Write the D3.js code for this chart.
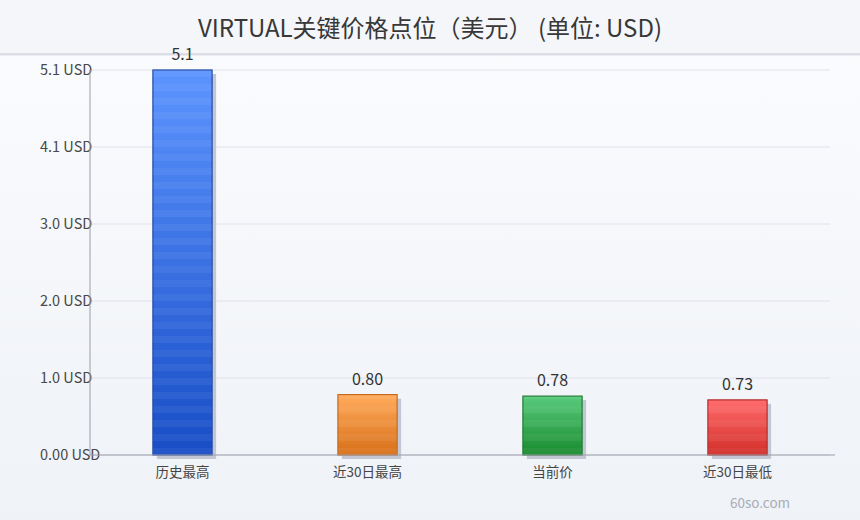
<!DOCTYPE html>
<html>
<head>
<meta charset="utf-8">
<script src="https://cdn.jsdelivr.net/npm/d3@7/dist/d3.min.js"></script>
<style>
  html, body { margin: 0; padding: 0; background: #f2f4f8; }
  svg { display: block; font-family: "Noto Sans CJK SC", "Noto Sans", sans-serif; }
</style>
</head>
<body>
<svg id="chart" width="860" height="520"></svg>
<script>
// --- DATA ---
const TITLE = "VIRTUAL关键价格点位（美元） (单位: USD)";
const categories = ["历史最高", "近30日最高", "当前价", "近30日最低"];
const values = [5.1, 0.80, 0.78, 0.73];
const valueLabels = ["5.1", "0.80", "0.78", "0.73"];
const tickValues = [0, 1.02, 2.04, 3.06, 4.08, 5.1];
const tickLabels = ["0.00 USD", "1.0 USD", "2.0 USD", "3.0 USD", "4.1 USD", "5.1 USD"];
const barColors = [
  { top: "#5c94ff", bottom: "#184dc6", stroke: "#2148a6" },
  { top: "#ffab5c", bottom: "#d86f18", stroke: "#c56818" },
  { top: "#58ca7c", bottom: "#188a2e", stroke: "#1f7a32" },
  { top: "#ff6c6c", bottom: "#d22e28", stroke: "#b32a2a" }
];

// --- LAYOUT ---
const W = 860, H = 520;
const margin = { top: 70, right: 30, bottom: 65, left: 90 };
const plotW = W - margin.left - margin.right;
const plotH = H - margin.top - margin.bottom;

const svg = d3.select("#chart");
const defs = svg.append("defs");

// backgrounds
const bgGrad = defs.append("linearGradient").attr("id", "bg").attr("x1", 0).attr("y1", 0).attr("x2", 0).attr("y2", 1);
bgGrad.append("stop").attr("offset", "0%").attr("stop-color", "#fbfcfe");
bgGrad.append("stop").attr("offset", "100%").attr("stop-color", "#eff2f7");
svg.append("rect").attr("width", W).attr("height", H).attr("fill", "url(#bg)");
svg.append("rect").attr("width", W).attr("height", 53).attr("fill", "#f5f6f9");
svg.append("rect").attr("y", 53).attr("width", W).attr("height", 2.5).attr("fill", "#dcdee6");

// title
svg.append("text")
  .attr("x", W / 2).attr("y", 37)
  .attr("text-anchor", "middle")
  .attr("font-size", 24)
  .attr("fill", "#383838")
  .text(TITLE);

// scales
const x = d3.scaleBand().domain(categories).range([margin.left, margin.left + plotW]).paddingInner(0.68).paddingOuter(0.34);
const y = d3.scaleLinear().domain([0, d3.max(values)]).range([margin.top + plotH, margin.top]);

// gridlines
svg.append("g").selectAll("line").data(tickValues).join("line")
  .attr("x1", margin.left).attr("x2", margin.left + plotW)
  .attr("y1", d => y(d)).attr("y2", d => y(d))
  .attr("stroke", "#dfe2ea").attr("stroke-width", 1);

// y tick labels
svg.append("g").selectAll("text").data(tickValues).join("text")
  .attr("x", 40).attr("y", d => y(d) + 5)
  .attr("font-size", 14.5).attr("fill", "#484848")
  .text((d, i) => tickLabels[i]);

// gradients + stripes per bar
barColors.forEach((c, i) => {
  const g = defs.append("linearGradient").attr("id", "bar" + i).attr("x1", 0).attr("y1", 0).attr("x2", 0).attr("y2", 1);
  g.append("stop").attr("offset", "0%").attr("stop-color", c.top);
  g.append("stop").attr("offset", "100%").attr("stop-color", c.bottom);
});
const stripes = defs.append("pattern").attr("id", "stripes")
  .attr("patternUnits", "userSpaceOnUse").attr("width", 10).attr("height", 14);
stripes.append("rect").attr("width", 10).attr("height", 7).attr("fill", "#fff").attr("opacity", 0.05);

// bars
const bars = svg.append("g").selectAll("g").data(categories).join("g");
bars.append("rect")
  .attr("x", d => x(d) + 4).attr("y", (d, i) => y(values[i]) + 4)
  .attr("width", x.bandwidth()).attr("height", (d, i) => y(0) - y(values[i]))
  .attr("fill", "#c3c7d3");
bars.append("rect")
  .attr("x", d => x(d)).attr("y", (d, i) => y(values[i]))
  .attr("width", x.bandwidth()).attr("height", (d, i) => y(0) - y(values[i]))
  .attr("fill", (d, i) => `url(#bar${i})`)
  .attr("stroke", (d, i) => barColors[i].stroke).attr("stroke-width", 1.2);
bars.append("rect")
  .attr("x", d => x(d)).attr("y", (d, i) => y(values[i]))
  .attr("width", x.bandwidth()).attr("height", (d, i) => y(0) - y(values[i]))
  .attr("fill", "url(#stripes)");

// value labels
bars.append("text")
  .attr("x", d => x(d) + x.bandwidth() / 2).attr("y", (d, i) => y(values[i]) - 10)
  .attr("text-anchor", "middle").attr("font-size", 16).attr("fill", "#333")
  .text((d, i) => valueLabels[i]);

// axes lines
svg.append("line")
  .attr("x1", margin.left).attr("x2", margin.left)
  .attr("y1", margin.top).attr("y2", y(0))
  .attr("stroke", "#9a9ea8").attr("stroke-width", 1);
svg.append("line")
  .attr("x1", margin.left).attr("x2", margin.left + plotW + 5)
  .attr("y1", y(0)).attr("y2", y(0))
  .attr("stroke", "#9a9ea8").attr("stroke-width", 1);

// category labels
svg.append("g").selectAll("text").data(categories).join("text")
  .attr("x", d => x(d) + x.bandwidth() / 2).attr("y", y(0) + 22)
  .attr("text-anchor", "middle").attr("font-size", 13.5).attr("fill", "#444")
  .text(d => d);

// watermark
svg.append("text")
  .attr("x", 760).attr("y", 508)
  .attr("text-anchor", "middle").attr("font-size", 13.5).attr("fill", "#a8adb8")
  .text("60so.com");
</script>
</body>
</html>
